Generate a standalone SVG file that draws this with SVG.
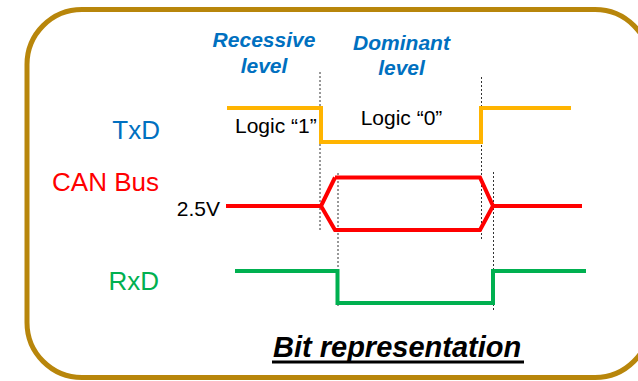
<svg xmlns="http://www.w3.org/2000/svg" width="638" height="381" viewBox="0 0 638 381">
<style>
text{font-family:"Liberation Sans",Arial,sans-serif}
.hdr{font-size:21px;font-weight:bold;font-style:italic;fill:#0070C0;text-anchor:middle}
.sig{font-size:26px}
.lbl{font-size:21px;fill:#000}
.dot{stroke:#333;stroke-width:1;stroke-dasharray:2 2;fill:none}
.w{fill:none;stroke-width:4;stroke-linejoin:miter}
</style>
<rect x="27" y="9.5" width="623" height="368" rx="55" ry="55" fill="#fff" stroke="#B8860B" stroke-width="5"/>
<g id="headers">
<text class="hdr" x="264" y="47">Recessive</text>
<text class="hdr" x="264" y="73">level</text>
<text class="hdr" x="401.5" y="50">Dominant</text>
<text class="hdr" x="401.5" y="75">level</text>
</g>
<g id="signal-labels">
<text class="sig" x="160" y="139" text-anchor="end" fill="#0070C0">TxD</text>
<text class="sig" x="159" y="191" text-anchor="end" fill="#FF0000">CAN Bus</text>
<text class="sig" x="159" y="290" text-anchor="end" fill="#00B050">RxD</text>
</g>
<g id="connectors">
<line class="dot" x1="320" y1="72" x2="320" y2="231"/>
<line class="dot" x1="481.5" y1="77" x2="481.5" y2="241"/>
<line class="dot" x1="338" y1="173" x2="338" y2="306"/>
<line class="dot" x1="493.5" y1="172" x2="493.5" y2="310"/>
</g>
<g id="txd">
<polyline class="w" stroke="#FFB400" points="227,108 321,108 321,142 481,142 481,108 571,108"/>
</g>
<g id="canbus">
<polyline class="w" stroke="#FF0000" points="226,206 321,206"/>
<polyline class="w" stroke="#FF0000" points="335,177.5 321,206 335,230 480,230 493,206 480,177.5 335,177.5"/>
<polyline class="w" stroke="#FF0000" points="493,206 582,206"/>
</g>
<g id="rxd">
<polyline class="w" stroke="#00B050" points="235,271 337.5,271 337.5,303 493,303 493,271 586,271"/>
</g>
<g id="labels">
<text class="lbl" x="235" y="133">Logic “1”</text>
<text class="lbl" x="401.5" y="125" text-anchor="middle">Logic “0”</text>
<text class="lbl" x="220" y="216" text-anchor="end">2.5V</text>
</g>
<g id="title">
<text x="273" y="357" font-size="29" font-weight="bold" font-style="italic" fill="#000">Bit representation</text>
<line x1="272" y1="362" x2="524" y2="362" stroke="#000" stroke-width="3"/>
</g>
</svg>
